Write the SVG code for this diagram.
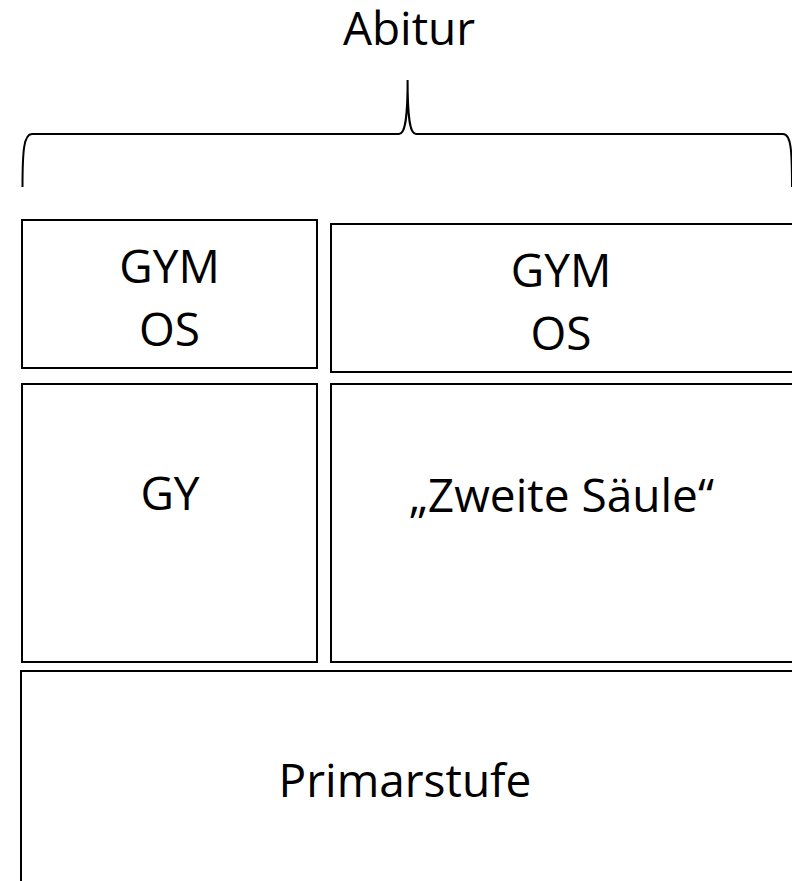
<svg xmlns="http://www.w3.org/2000/svg" width="792" height="881" viewBox="0 0 792 881">
<style>
.box{fill:#fff;stroke:#000;stroke-width:2}
.t{font-family:"Open Sans","Noto Sans",sans-serif;font-size:46px;fill:#000;text-anchor:middle}
.brace{fill:none;stroke:#000;stroke-width:2}
</style>
<rect width="792" height="881" fill="#fff"/>
<g id="abitur">
<text class="t" x="409" y="45">Abitur</text>
</g>
<g id="connectors">
<path class="brace" d="M22.5,187 C22.5,150 24,134 32,134 L399,134 C404,134 407.6,125 407.6,80 C407.6,125 411,134 416,134 L783,134 C791,134 792,150 792,187"/>
</g>
<g id="gym-os-left">
<rect class="box" x="22" y="220" width="295" height="148"/>
<text class="t" x="169.5" y="283">GYM</text>
<text class="t" x="169.5" y="346">OS</text>
</g>
<g id="gym-os-right">
<rect class="box" x="331" y="224" width="470" height="148"/>
<text class="t" x="561" y="287">GYM</text>
<text class="t" x="561" y="350">OS</text>
</g>
<g id="gy">
<rect class="box" x="22" y="384" width="295" height="278"/>
<text class="t" x="170" y="510">GY</text>
</g>
<g id="zweite-saeule">
<rect class="box" x="331" y="384" width="470" height="278"/>
<text class="t" x="561.5" y="512">„Zweite Säule“</text>
</g>
<g id="primarstufe">
<rect class="box" x="21" y="671" width="780" height="230"/>
<text class="t" x="405" y="797">Primarstufe</text>
</g>
</svg>
